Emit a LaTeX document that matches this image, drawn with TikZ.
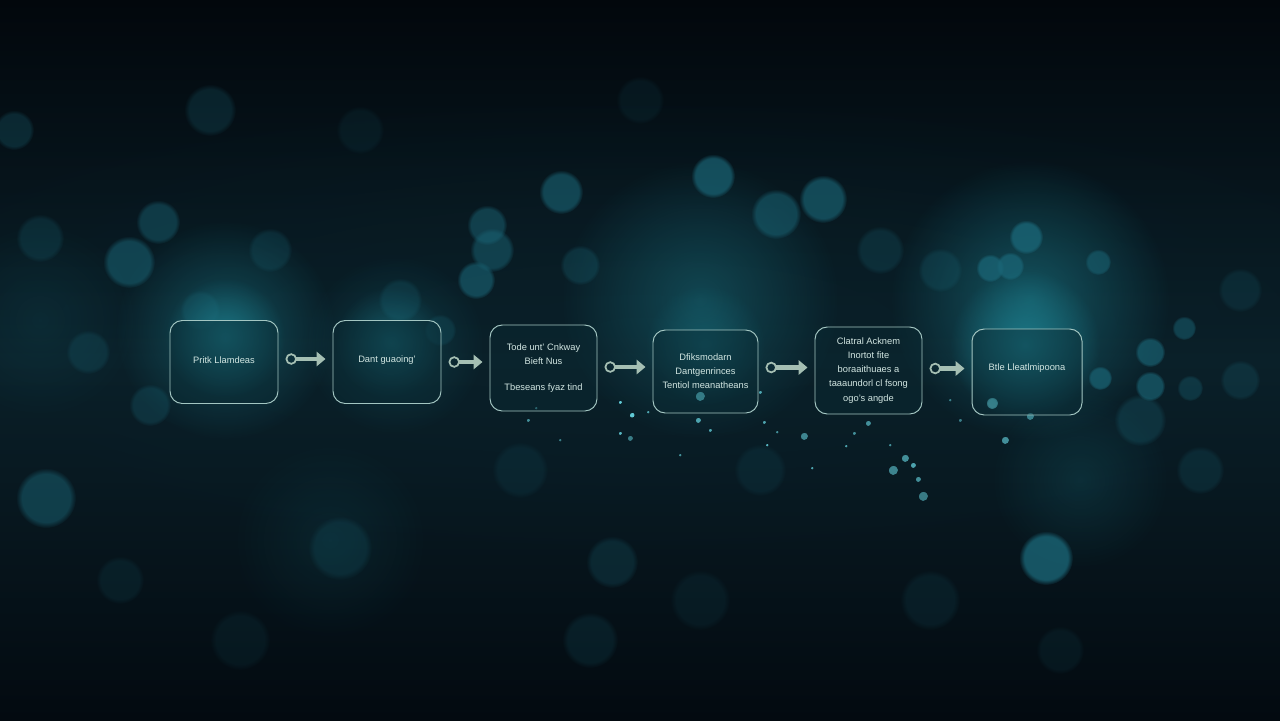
\documentclass[tikz,border=0pt]{standalone}
\usepackage{fontspec}
\setmainfont{Liberation Sans}
\usetikzlibrary{arrows.meta,fadings,calc}
\tikzfading[name=glowfade, inner color=transparent!0, outer color=transparent!100]
\definecolor{bgtop}{HTML}{02070C}
\definecolor{bgmid}{HTML}{0A2029}
\definecolor{bgbot}{HTML}{030A10}
\definecolor{bokeh}{HTML}{1A6576}
\definecolor{glowc}{HTML}{1F8A9A}
\definecolor{spark}{HTML}{6ADCE8}
\definecolor{boxline}{HTML}{A3C6C2}
\definecolor{boxfill}{HTML}{0A2A33}
\definecolor{txt}{HTML}{D2E6E2}
\definecolor{arrowc}{HTML}{A5BFB3}
\begin{document}
\begin{tikzpicture}[x=0.02cm,y=-0.02cm,
  stagebox/.style={draw=boxline, line width=0.55pt, rounded corners=7pt,
    fill=boxfill, fill opacity=0.45, text opacity=1, text=txt,
    align=center, inner sep=2pt,
    font=\fontsize{5.3}{8}\selectfont},
  flow/.style={draw=arrowc, line width=2.8pt, shorten <=4pt, shorten >=4pt,
    {Circle[open,length=6.5pt,width=6.5pt,line width=1pt]}-{Triangle[width=8pt,length=5pt]}},
  bk/.style={fill=bokeh, path fading=circle with fuzzy edge 20 percent},
  gl/.style={fill=glowc, path fading=glowfade}
]
\useasboundingbox (0,0) rectangle (1280,720);
% background
\shade[top color=bgtop, bottom color=bgbot, middle color=bgmid] (0,0) rectangle (1280,720);
\fill[bgmid, path fading=glowfade, fill opacity=0.7] (640,330) ellipse (900 and 240);
% large glows
\fill[gl, fill opacity=0.45] (225,330) circle (110);
\fill[gl, fill opacity=0.25] (395,345) circle (90);
\fill[gl, fill opacity=0.38] (700,300) circle (140);
\fill[gl, fill opacity=0.5] (1030,300) circle (140);
\fill[gl, fill opacity=0.18] (1080,480) circle (90);
\fill[gl, fill opacity=0.12] (330,540) circle (100);
\fill[gl, fill opacity=0.12] (40,320) circle (100);
% bokeh circles
\foreach \x/\y/\r/\o in {
  713/176/22/0.7, 561/192/22/0.6, 823/199/24/0.65, 776/214/25/0.55,
  487/225/20/0.5, 492/250/22/0.5, 476/280/19/0.6, 129/262/26/0.55,
  158/222/22/0.45, 210/110/26/0.25, 14/130/20/0.3, 1026/237/17/0.8,
  990/268/14/0.75, 1010/266/14/0.75, 1098/262/13/0.55, 1150/352/15/0.65,
  1150/386/15/0.65, 1100/378/12/0.7, 1184/328/12/0.5, 1190/388/13/0.35,
  46/498/30/0.5, 1046/558/27/0.8, 150/405/21/0.3, 612/562/26/0.25,
  590/640/28/0.18, 340/548/32/0.22, 40/238/24/0.25, 88/352/22/0.25,
  1140/420/26/0.3, 1240/380/20/0.25, 200/310/20/0.25, 270/250/22/0.25,
  400/300/22/0.25, 440/330/16/0.25, 580/265/20/0.3, 880/250/24/0.25,
  940/270/22/0.25, 1240/290/22/0.2, 930/600/30/0.15, 1200/470/24/0.22,
  520/470/28/0.15, 760/470/26/0.15, 1060/650/24/0.12, 240/640/30/0.12,
  700/600/30/0.12, 120/580/24/0.15, 360/130/24/0.12, 640/100/24/0.12}
  \fill[bk, fill opacity=\o] (\x,\y) circle (\r);
% sparkle particles
\foreach \x/\y/\r/\o in {
  700/396/5/0.85, 992/403/6/0.9, 1005/440/4/0.6, 1030/416/4/0.5,
  620/402/2/0.9, 632/415/2.5/0.9, 620/433/2/0.8, 630/438/3/0.5,
  698/420/3/0.7, 710/430/2/0.7, 764/422/2/0.7, 767/445/1.5/0.8,
  777/432/1.5/0.6, 804/436/4/0.55, 868/423/3/0.6, 854/433/2/0.6,
  893/470/5/0.55, 905/458/4/0.6, 913/465/3/0.7, 923/496/5/0.5,
  918/479/3/0.6, 812/468/1.5/0.7, 846/446/1.5/0.7, 760/392/2/0.7,
  528/420/2/0.6, 536/408/1.5/0.6, 648/412/1.5/0.7, 890/445/1.5/0.6,
  680/455/1.5/0.6, 960/420/2/0.5, 950/400/1.5/0.5, 560/440/1.5/0.5}
  \fill[spark, path fading=circle with fuzzy edge 20 percent, fill opacity=\o] (\x,\y) circle (\r);
% inner box glows
\fill[gl, fill opacity=0.6] (225,338) circle (60);
\fill[gl, fill opacity=0.4] (390,342) circle (55);
\fill[gl, fill opacity=0.35] (705,345) circle (60);
\fill[gl, fill opacity=0.75] (1025,345) circle (75);
% boxes
\node[stagebox, minimum width=108*0.02cm, minimum height=83*0.02cm] (b1) at (224,362)
  {\raisebox{2.5pt}{Pritk Llamdeas}};
\node[stagebox, minimum width=108*0.02cm, minimum height=83*0.02cm] (b2) at (387,362)
  {\raisebox{3pt}{Dant guaoing'}};
\node[stagebox, minimum width=107*0.02cm, minimum height=86*0.02cm] (b3) at (543.5,368)
  {Tode unt' Cnkway\\ Bieft Nus\\[7pt] Tbeseans fyaz tind};
\node[stagebox, minimum width=105*0.02cm, minimum height=83*0.02cm] (b4) at (705.5,371.5)
  {Dfiksmodarn\\ Dantgenrinces\\ Tentiol meanatheans};
\node[stagebox, minimum width=107*0.02cm, minimum height=87*0.02cm] (b5) at (868.5,370.5)
  {Clatral Acknem\\ Inortot fite\\ boraaithuaes a\\ taaaundorl cl fsong\\ ogo's angde};
\node[stagebox, minimum width=110*0.02cm, minimum height=86*0.02cm] (b6) at (1027,372)
  {\raisebox{5pt}{Btle Lleatlmipoona}};
% connectors
\draw[flow] ($(b1.east)+(0,-3)$) coordinate (s1) -- (s1 -| b2.west);
\draw[flow] (b2.east) -- (b2.east -| b3.west);
\draw[flow] ($(b3.east)+(0,-1)$) coordinate (s3) -- (s3 -| b4.west);
\draw[flow] ($(b4.east)+(0,-4)$) coordinate (s4) -- (s4 -| b5.west);
\draw[flow] ($(b5.east)+(0,-2)$) coordinate (s5) -- (s5 -| b6.west);
\end{tikzpicture}
\end{document}
